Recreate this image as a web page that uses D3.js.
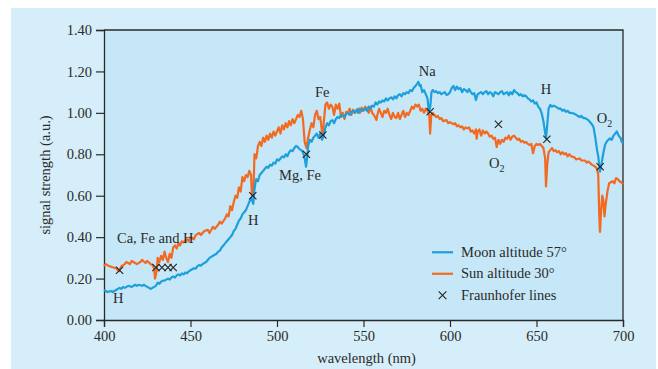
<!DOCTYPE html>
<html>
<head>
<meta charset="utf-8">
<script src="https://cdn.jsdelivr.net/npm/d3@7"></script>
<style>
  html, body { margin: 0; padding: 0; background: #fff; }
  svg { display: block; font-family: "Liberation Serif", "DejaVu Serif", serif; }
</style>
</head>
<body>
<svg id="chart" width="658" height="369"></svg>
<script>
// ---- data ----
const sunWavelength = [400,401,403,405,407,408.7,410,412,413,415,416,418,419,421,422,424,425,427,428,429,429.5,430.5,431,432,433,434,435,436,437,438,439,440,441,442,443,444,445,446,448,449,450,452,453,455,456,458,460,461,463,464,466,467,468,470,471,472,473,474,475,476,477,478,479,480,481,482,483,484,485,485.5,486.5,487,488,489,490,491,492,493,494,495,496,497,498,499,500,501,502,503,504,505,506,507,508,509,510,511,512,513,514,515,516,517,518,519,520,521,522,523,524,525,526,526.5,527,528,529,530,531,532,533,534,535,536,537,538,539,540,541,542,543,544,545,546,547,548,549,550,551,552,553,554,555,556,557.5,558,559,560,561,562,563,564,565,566,567,568,569,570,571,572,573,574,575,576,577,578,579,580,581,582,583,584,585,586,587,588,588.5,589.2,590,591,592,593,594,595,596,598,599,600,602,603,604,605,606,607,608,609,610,611,612,613,614,615,615.4,616,617,618,619,620,621,622,623,624,625,626,627,628,629,630,631,632,633,634,635,636,637,638,639,640,641,642,643,644,645,646,647,648,649,650,651,652,653,654,655,655.5,656.2,657,658,659,660,661,662,663,664,665,666,667,668,669,670,672,673,675,676,678,679,680,682,683,684,685,685.7,686.3,686.7,687.3,688,688.6,689.3,690,691,692,693,694,695,696,697,698,699,700];
const sunSignal = [0.26,0.27,0.26,0.255,0.25,0.235,0.26,0.27,0.28,0.27,0.285,0.275,0.27,0.28,0.29,0.275,0.285,0.27,0.265,0.25,0.20,0.24,0.30,0.28,0.31,0.29,0.33,0.30,0.28,0.32,0.30,0.35,0.36,0.345,0.37,0.36,0.38,0.375,0.39,0.38,0.40,0.39,0.41,0.42,0.41,0.43,0.435,0.42,0.45,0.44,0.46,0.475,0.465,0.49,0.51,0.50,0.55,0.53,0.57,0.60,0.59,0.64,0.62,0.69,0.67,0.70,0.69,0.72,0.70,0.60,0.66,0.80,0.78,0.84,0.86,0.84,0.88,0.86,0.89,0.87,0.90,0.88,0.91,0.89,0.91,0.93,0.90,0.94,0.92,0.95,0.93,0.96,0.94,0.97,0.95,0.97,0.99,0.98,1.01,0.97,0.86,0.83,0.88,0.92,0.95,0.93,0.99,1.01,0.97,0.98,0.91,0.90,0.95,1.04,1.05,1.02,1.04,1.03,0.99,1.04,1.02,1.045,0.98,1.00,0.97,1.005,1.00,1.02,0.99,1.015,1.00,1.01,1.02,1.00,1.025,1.01,1.03,1.02,1.00,1.03,1.00,0.99,0.965,0.99,1.02,1.00,0.98,1.01,1.00,1.02,0.99,0.97,1.00,0.98,0.975,1.00,0.97,0.99,1.01,0.98,1.00,0.99,1.01,1.03,1.02,1.04,1.03,1.04,1.01,1.02,1.00,1.02,1.01,0.99,0.90,0.99,1.00,0.99,0.98,0.985,0.97,0.975,0.96,0.965,0.95,0.955,0.945,0.95,0.935,0.94,0.93,0.935,0.92,0.93,0.925,0.93,0.91,0.915,0.90,0.92,0.875,0.91,0.92,0.89,0.915,0.90,0.91,0.90,0.885,0.89,0.875,0.88,0.835,0.87,0.85,0.87,0.86,0.88,0.875,0.89,0.87,0.885,0.89,0.88,0.87,0.875,0.86,0.865,0.855,0.86,0.85,0.845,0.85,0.805,0.84,0.85,0.845,0.85,0.84,0.83,0.78,0.645,0.75,0.81,0.82,0.83,0.815,0.82,0.81,0.815,0.80,0.81,0.80,0.805,0.79,0.80,0.79,0.785,0.775,0.78,0.77,0.77,0.76,0.765,0.75,0.745,0.74,0.73,0.70,0.50,0.425,0.52,0.60,0.58,0.50,0.56,0.62,0.66,0.665,0.67,0.66,0.685,0.68,0.67,0.665,0.655];

const moonWavelength = [400,401,402,404,405,406,407,408,409,410,411,412,413,414,416,417,418,419,420,421,422,423,424,425,426,427,428,429,430,431,432,433,434,435,436,437,438,439,440,441,442,443,444,445,446,447,448,449,450,451,452,453,454,455,456,457,458,459,460,461,462,463,464,465,466,467,468,469,470,471,472,473,474,475,476,477,478,479,480,481,482,483,484,485,485.5,486.3,486.8,487.5,488,489,490,491,492,493,494,495,496,497,498,499,500,501,502,503,504,505,506,507,508,509,510,511,512,513,514,515,516,516.8,517.5,518,519,520,521,522,523,524,525,526,527,528,529,530,531,532,533,534,535,536,537,538,539,540,541,542,543,544,545,546,547,548,549,550,551,552,553,554,555,556,557,558,559,560,561,562,563,564,565,566,567,568,569,570,571,572,573,574,575,576,577,578,579,580,581,581.7,582.5,583,584,585,586,587,587.8,588.6,589.3,590,591,592,593,594,595,596,597,598,599,600,601,602,603,604,605,606,607,608,609,610,611,612,613,614,615,616,617,618,619,620,621,622,623,624,625,626,627,628,629,630,631,632,633,634,635,636,637,638,639,640,641,642,643,644,645,646,647,648,649,650,651,652,653,654,654.7,655.5,656.3,657,658,659,660,661,662,663,664,665,666,667,668,669,670,671,672,673,674,675,676,677,678,679,680,681,682,683,684,685,685.7,686.7,687.5,688.5,689.6,690.5,691.5,692.5,693.5,694.5,695.5,696.4,697.5,698.5,699.3,700];
const moonSignal = [0.145,0.14,0.135,0.14,0.135,0.14,0.145,0.15,0.155,0.15,0.16,0.155,0.16,0.165,0.16,0.165,0.17,0.165,0.17,0.168,0.165,0.17,0.165,0.16,0.155,0.15,0.155,0.16,0.165,0.18,0.175,0.185,0.19,0.19,0.195,0.20,0.195,0.205,0.21,0.205,0.215,0.22,0.215,0.225,0.22,0.23,0.225,0.235,0.24,0.245,0.25,0.248,0.26,0.265,0.262,0.27,0.275,0.28,0.29,0.30,0.305,0.31,0.315,0.32,0.33,0.335,0.35,0.36,0.37,0.38,0.39,0.40,0.41,0.43,0.44,0.46,0.48,0.49,0.51,0.52,0.53,0.55,0.57,0.59,0.58,0.56,0.62,0.66,0.68,0.67,0.70,0.71,0.72,0.73,0.74,0.735,0.75,0.745,0.76,0.755,0.775,0.77,0.78,0.79,0.785,0.80,0.79,0.81,0.82,0.815,0.83,0.84,0.835,0.825,0.82,0.81,0.78,0.74,0.79,0.84,0.87,0.86,0.88,0.89,0.90,0.88,0.90,0.87,0.89,0.93,0.95,0.94,0.96,0.965,0.95,0.97,0.98,0.975,0.99,0.985,0.98,0.995,1.00,0.99,1.005,1.01,1.00,1.015,1.00,1.02,1.01,1.015,1.02,1.01,1.03,1.02,1.035,1.03,1.05,1.04,1.055,1.05,1.06,1.055,1.07,1.06,1.07,1.075,1.065,1.08,1.07,1.085,1.09,1.08,1.095,1.09,1.10,1.095,1.11,1.105,1.12,1.13,1.14,1.15,1.13,1.135,1.10,1.11,1.09,1.07,1.005,1.03,1.10,1.11,1.10,1.105,1.095,1.10,1.09,1.095,1.10,1.086,1.09,1.10,1.12,1.13,1.11,1.127,1.115,1.12,1.10,1.115,1.11,1.10,1.115,1.10,1.09,1.095,1.062,1.09,1.095,1.10,1.09,1.10,1.105,1.09,1.10,1.095,1.08,1.10,1.095,1.09,1.10,1.105,1.09,1.095,1.10,1.085,1.10,1.09,1.11,1.10,1.095,1.085,1.09,1.08,1.085,1.08,1.07,1.065,1.055,1.06,1.045,1.05,1.03,1.02,0.998,0.96,0.92,0.877,0.95,1.02,1.038,1.03,1.035,1.03,1.025,1.02,1.02,1.01,1.015,1.005,1.01,1.0,1.0,0.998,0.995,0.99,0.985,0.98,0.985,0.975,0.975,0.97,0.965,0.955,0.945,0.93,0.88,0.82,0.79,0.716,0.75,0.80,0.845,0.86,0.87,0.877,0.87,0.89,0.90,0.91,0.89,0.88,0.86,0.853];

// Fraunhofer line markers
const fraunhoferWavelength = [409, 430, 433.5, 437, 440, 486, 517, 526.5, 588.5, 628, 656, 686.8];
const fraunhoferSignal = [0.24, 0.253, 0.253, 0.253, 0.253, 0.60, 0.80, 0.893, 1.005, 0.945, 0.873, 0.74];

// annotations: label, wavelength, signal (text baseline-left anchor)
const labelText = ["Ca, Fe and H", "H", "H", "Mg, Fe", "Fe", "Na", "H", "O", "O"];
const labelWavelength = [407.5, 405.2, 483.2, 501.2, 522, 582, 652.4, 684.8, 622.5];
const labelSignal = [0.372, 0.082, 0.459, 0.676, 1.077, 1.178, 1.09, 0.95, 0.733];
const labelSub = ["", "", "", "", "", "", "", "2", "2"];

const xTicks = [400, 450, 500, 550, 600, 650, 700];
const yTicks = [0, 0.2, 0.4, 0.6, 0.8, 1.0, 1.2, 1.4];

const seriesNames = ["Moon altitude 57\u00b0", "Sun altitude 30\u00b0"];
const colorMoon = "#1c9fdb";
const colorSun = "#f26a21";
const ink = "#2a2a2a";

// ---- layout ----
const svg = d3.select("#chart");
const margin = {left: 104, top: 30, right: 35, bottom: 49};
const W = 658, H = 369;
const iw = W - margin.left - margin.right;
const ih = H - margin.top - margin.bottom;

svg.append("rect").attr("x", 11).attr("y", 8).attr("width", 645).attr("height", 361).attr("fill", "#d6eef9");

const g = svg.append("g").attr("transform", `translate(${margin.left},${margin.top})`);

const x = d3.scaleLinear().domain([400, 700]).range([0, iw]);
const y = d3.scaleLinear().domain([0, 1.4]).range([ih, 0]);

g.append("rect").attr("width", iw).attr("height", ih).attr("fill", "#c6e7f7");

// axes
const xAxis = g.append("g").attr("transform", `translate(0,${ih})`)
  .call(d3.axisBottom(x).tickValues(xTicks).tickSize(7).tickPadding(4).tickFormat(d3.format("d")));
const yAxis = g.append("g")
  .call(d3.axisLeft(y).tickValues(yTicks).tickSize(8).tickPadding(4).tickFormat(d3.format(".2f")));

[xAxis, yAxis].forEach(a => {
  a.selectAll("path").attr("stroke", ink).attr("stroke-width", 1.3);
  a.selectAll("line").attr("stroke", ink).attr("stroke-width", 1.2);
  a.selectAll("text").attr("fill", ink).attr("font-size", "14.5px")
    .attr("font-family", "Liberation Serif, DejaVu Serif, serif");
});

// top / right frame
g.append("path")
  .attr("d", `M0,0H${iw}V${ih}`)
  .attr("fill", "none").attr("stroke", ink).attr("stroke-width", 1.3);

// lines
const line = d3.line().x(d => x(d[0])).y(d => y(d[1]));

g.append("path")
  .datum(d3.zip(sunWavelength, sunSignal))
  .attr("d", line).attr("fill", "none")
  .attr("stroke", colorSun).attr("stroke-width", 2.2).attr("stroke-linejoin", "round");

g.append("path")
  .datum(d3.zip(moonWavelength, moonSignal))
  .attr("d", line).attr("fill", "none")
  .attr("stroke", colorMoon).attr("stroke-width", 2.2).attr("stroke-linejoin", "round");

// fraunhofer markers
const cross = d3.symbol().type(d3.symbolX).size(36);
g.append("g").selectAll("path")
  .data(d3.zip(fraunhoferWavelength, fraunhoferSignal))
  .join("path")
  .attr("transform", d => `translate(${x(d[0])},${y(d[1])})`)
  .attr("d", cross)
  .attr("fill", "none").attr("stroke", "#222").attr("stroke-width", 1.1);

// annotation labels
const lab = g.append("g").attr("font-size", "14.5px").attr("fill", ink);
labelText.forEach((t, i) => {
  const txt = lab.append("text")
    .attr("x", x(labelWavelength[i])).attr("y", y(labelSignal[i]))
    .text(t);
  if (labelSub[i]) {
    txt.append("tspan").attr("font-size", "10px").attr("dy", 4).text(labelSub[i]);
  }
});

// legend
const leg = g.append("g").attr("transform", `translate(${x(589.6)},${y(0.327)})`).attr("font-size", "14.5px").attr("fill", ink);
[colorMoon, colorSun].forEach((c, i) => {
  const row = leg.append("g").attr("transform", `translate(0,${i * 21.5})`);
  row.append("line").attr("x1", 0).attr("x2", 21).attr("stroke", c).attr("stroke-width", 2.2);
  row.append("text").attr("x", 29).attr("y", 4.5).text(seriesNames[i]);
});
const row3 = leg.append("g").attr("transform", `translate(0,${2 * 21.5})`);
row3.append("path").attr("transform", "translate(10.5,0)").attr("d", d3.symbol().type(d3.symbolX).size(40))
  .attr("fill", "none").attr("stroke", "#222").attr("stroke-width", 1.1);
row3.append("text").attr("x", 29).attr("y", 4.5).text("Fraunhofer lines");

// axis titles
g.append("text").attr("x", iw / 2 + 3).attr("y", ih + 43).attr("text-anchor", "middle")
  .attr("font-size", "14.5px").attr("fill", ink).text("wavelength (nm)");
g.append("text").attr("transform", `translate(${-54},${ih / 2}) rotate(-90)`).attr("text-anchor", "middle")
  .attr("font-size", "14.5px").attr("fill", ink).text("signal strength (a.u.)");
</script>
</body>
</html>
